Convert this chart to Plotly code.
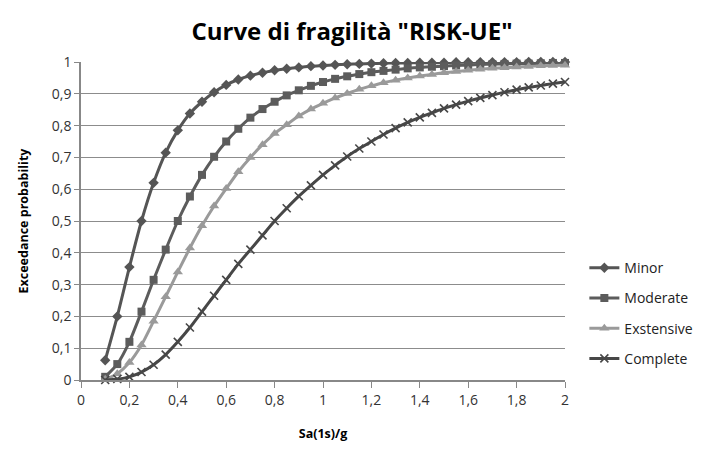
import plotly.graph_objects as go

# Spectral acceleration Sa(1s)/g, sampled every 0.05
sa = [round(0.1 + 0.05 * i, 2) for i in range(39)]

minor = [0.062, 0.200, 0.355, 0.500, 0.620, 0.715, 0.785, 0.838, 0.875, 0.905,
         0.928, 0.945, 0.957, 0.966, 0.974, 0.979, 0.983, 0.987, 0.989, 0.991,
         0.993, 0.994, 0.995, 0.996, 0.997, 0.997, 0.998, 0.998, 0.998, 0.999,
         0.999, 0.999, 0.999, 0.999, 0.999, 1.000, 1.000, 1.000, 1.000]
moderate = [0.010, 0.050, 0.120, 0.215, 0.315, 0.410, 0.500, 0.577, 0.645, 0.702,
            0.750, 0.790, 0.825, 0.852, 0.875, 0.895, 0.911, 0.925, 0.937, 0.947,
            0.955, 0.962, 0.968, 0.972, 0.976, 0.980, 0.983, 0.985, 0.987, 0.989,
            0.990, 0.992, 0.993, 0.994, 0.995, 0.995, 0.996, 0.997, 0.997]
extensive = [0.002, 0.020, 0.055, 0.110, 0.185, 0.262, 0.340, 0.415, 0.485, 0.547,
             0.602, 0.655, 0.700, 0.740, 0.775, 0.803, 0.830, 0.852, 0.870, 0.887,
             0.901, 0.914, 0.925, 0.935, 0.943, 0.950, 0.956, 0.961, 0.966, 0.970,
             0.974, 0.977, 0.980, 0.982, 0.984, 0.986, 0.988, 0.989, 0.990]
complete = [0.000, 0.003, 0.010, 0.025, 0.048, 0.080, 0.120, 0.165, 0.215, 0.265,
            0.315, 0.365, 0.410, 0.455, 0.500, 0.540, 0.578, 0.612, 0.645, 0.675,
            0.703, 0.728, 0.750, 0.772, 0.792, 0.810, 0.826, 0.840, 0.854, 0.866,
            0.877, 0.887, 0.896, 0.905, 0.913, 0.920, 0.926, 0.932, 0.937]

x_ticks = [0, 0.2, 0.4, 0.6, 0.8, 1.0, 1.2, 1.4, 1.6, 1.8, 2.0]
x_labels = ["0", "0,2", "0,4", "0,6", "0,8", "1", "1,2", "1,4", "1,6", "1,8", "2"]
y_ticks = [0, 0.1, 0.2, 0.3, 0.4, 0.5, 0.6, 0.7, 0.8, 0.9, 1.0]
y_labels = ["0", "0,1", "0,2", "0,3", "0,4", "0,5", "0,6", "0,7", "0,8", "0,9", "1"]

series = [
    ("Minor", minor, "#555555", dict(symbol="diamond", size=8)),
    ("Moderate", moderate, "#5c5c5c", dict(symbol="square", size=8)),
    ("Exstensive", extensive, "#9a9a9a", dict(symbol="triangle-up", size=9)),
    ("Complete", complete, "#474747",
     dict(symbol="x-thin", size=8, line=dict(width=1.6, color="#474747"))),
]

fig = go.Figure()
for i, (name, vals, color, marker) in enumerate(series):
    fig.add_trace(go.Scatter(
        x=sa, y=vals, name=name, mode="lines+markers",
        line=dict(color=color, width=3, shape="spline", smoothing=0.6),
        marker=dict(color=color, **marker),
        legendgroup=f"g{i}", cliponaxis=False,
    ))

font_main = "Open Sans"
fig.update_layout(
    width=704, height=450,
    margin=dict(l=81, r=139, t=62, b=70, autoexpand=False),
    paper_bgcolor="white", plot_bgcolor="white",
    title=dict(text='<b>Curve di fragilità "RISK-UE"</b>', x=0.5, xanchor="center",
               y=0.93, yanchor="middle",
               font=dict(family=font_main, size=24, color="black")),
    xaxis=dict(range=[0, 2], tickvals=x_ticks, ticktext=x_labels,
               showgrid=False, zeroline=False, showline=True, linecolor="#888888",
               linewidth=1.5, ticks="outside", ticklen=6, tickcolor="#888888",
               tickfont=dict(family=font_main, size=14, color="#333333"),
               title=dict(text="<b>Sa(1s)/g</b>", standoff=22,
                          font=dict(family=font_main, size=12.5, color="black"))),
    yaxis=dict(range=[0, 1], tickvals=y_ticks, ticktext=y_labels,
               showgrid=True, gridcolor="#8c8c8c", gridwidth=1.2,
               zeroline=False, showline=True, linecolor="#888888", linewidth=1.5,
               ticks="outside", ticklen=5, tickcolor="#888888",
               tickfont=dict(family=font_main, size=14, color="#333333"),
               title=dict(text="<b>Exceedance probability</b>", standoff=20,
                          font=dict(family=font_main, size=12.5, color="black"))),
    legend=dict(x=1.04, y=0.21, xanchor="left", yanchor="middle",
                traceorder="grouped", tracegroupgap=9,
                font=dict(family=font_main, size=14, color="#222222"),
                itemwidth=30),
)

fig.write_html("out.html")
